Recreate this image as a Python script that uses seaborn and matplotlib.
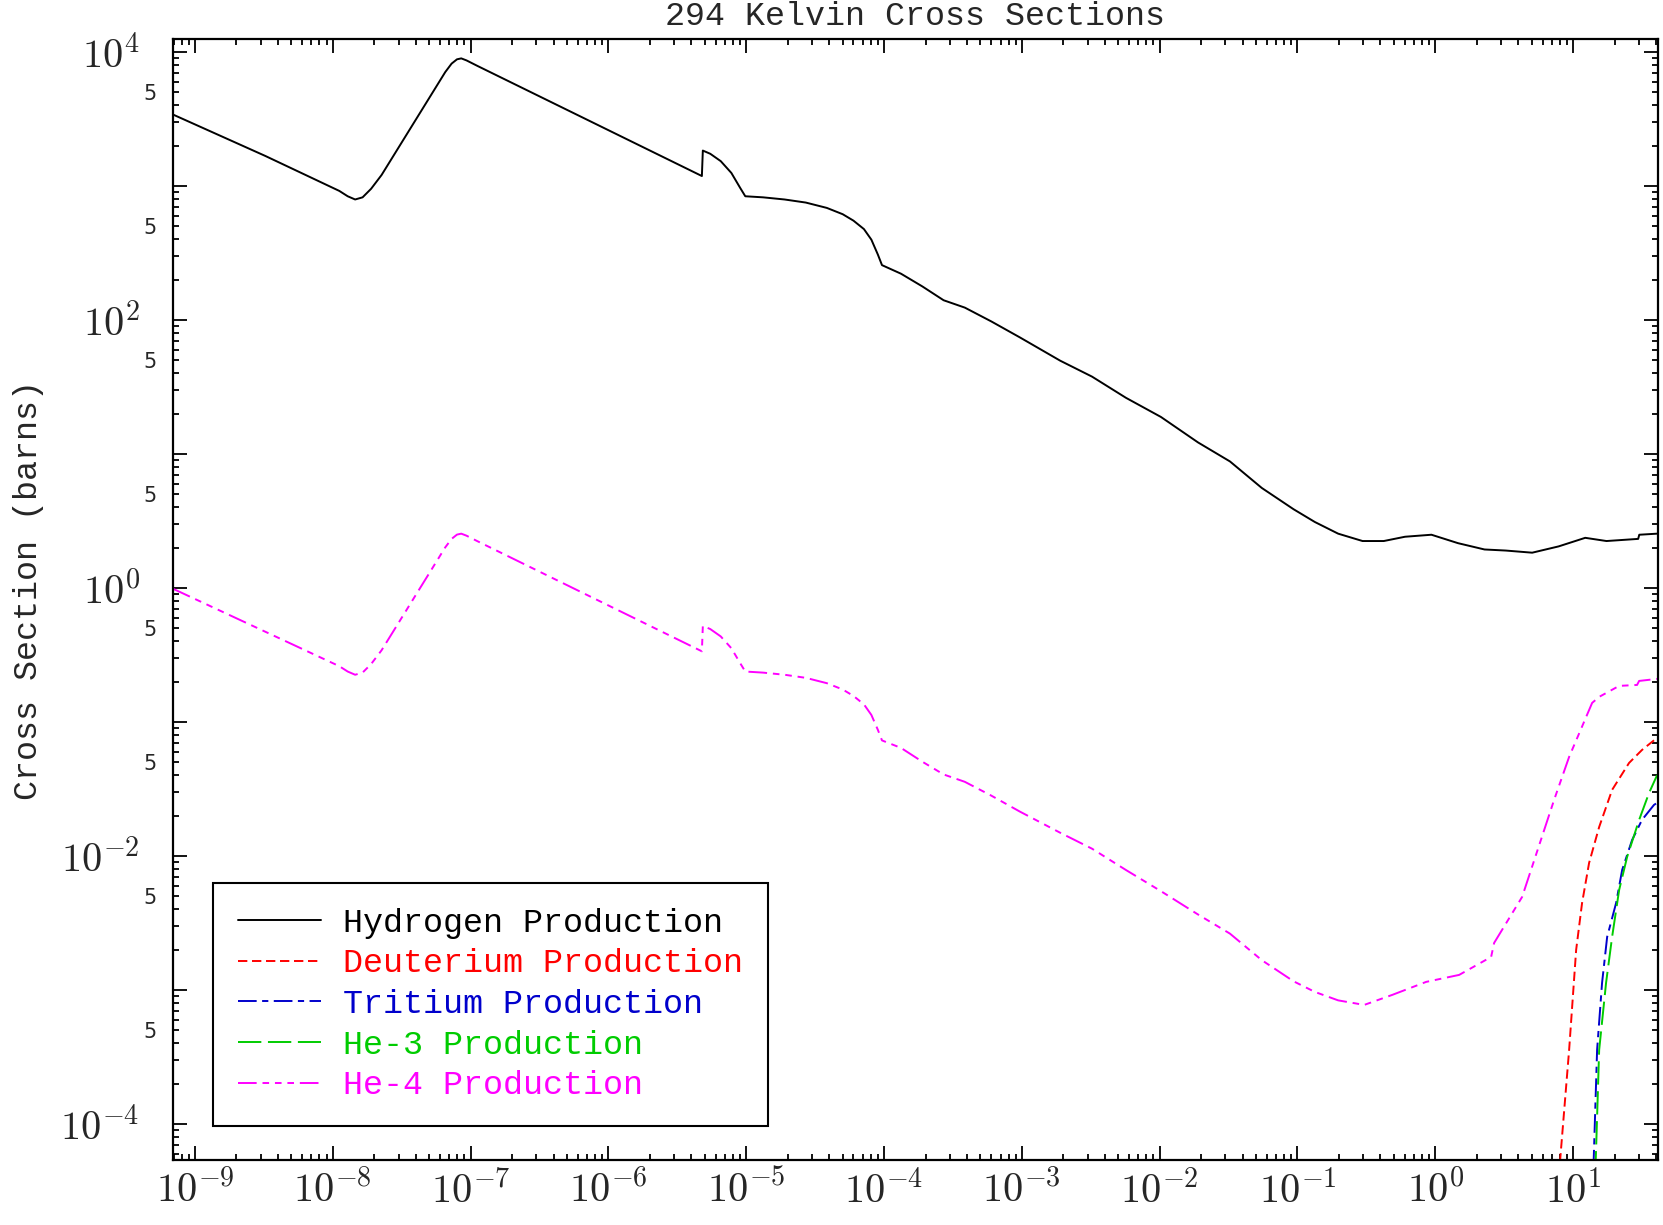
import numpy as np
import pandas as pd
import matplotlib
matplotlib.use("Agg")
import matplotlib.pyplot as plt
import matplotlib.ticker as mticker
import seaborn as sns

# values, stored as log10(energy) / log10(barns)
h_logE = [-9.16, -8.49, -7.953, -7.892, -7.838, -7.784, -7.722, -7.646,
          -7.184, -7.138, -7.099, -7.068, -7.03, -6.953,
          -5.322, -5.315, -5.261, -5.185, -5.108, -5.045, -5.007,
          -4.878, -4.722, -4.568, -4.415, -4.3, -4.222, -4.146, -4.092, -4.045, -4.015,
          -3.877, -3.722, -3.568, -3.414, -3.222, -3.015,
          -2.722, -2.491, -2.245, -1.991, -1.722, -1.49, -1.259, -1.028, -0.874,
          -0.705, -0.528, -0.374, -0.22, -0.028, 0.165, 0.357, 0.511, 0.703,
          0.895, 1.088, 1.242, 1.472, 1.48, 1.61]
h_logS = [3.533, 3.224, 2.963, 2.923, 2.899, 2.915, 2.979, 3.082,
          3.85, 3.913, 3.945, 3.952, 3.937, 3.897,
          3.074, 3.264, 3.24, 3.185, 3.097, 2.987, 2.923,
          2.915, 2.899, 2.876, 2.836, 2.789, 2.741, 2.678, 2.599, 2.488, 2.409,
          2.345, 2.25, 2.147, 2.092, 1.989, 1.87,
          1.696, 1.577, 1.419, 1.276, 1.086, 0.944, 0.746, 0.587, 0.492,
          0.405, 0.35, 0.35, 0.382, 0.397, 0.334, 0.287, 0.279, 0.263,
          0.31, 0.374, 0.35, 0.366, 0.397, 0.405]

he4_logE = [-9.16, -7.953, -7.892, -7.838, -7.784, -7.722, -7.646,
            -7.184, -7.138, -7.099, -7.068, -7.03, -6.953,
            -5.322, -5.315, -5.261, -5.185, -5.108, -5.045, -5.007,
            -4.878, -4.722, -4.568, -4.415, -4.3, -4.222, -4.146, -4.092, -4.045, -4.015,
            -3.877, -3.722, -3.568, -3.414, -3.222, -3.015,
            -2.722, -2.491, -2.245, -1.991, -1.722, -1.49, -1.259, -1.028, -0.874,
            -0.705, -0.516, -0.312, -0.066, 0.173, 0.405, 0.427, 0.63, 0.862,
            0.971, 1.138, 1.189, 1.334, 1.464, 1.479, 1.609]
he4_logS = [-0.006, -0.584, -0.624, -0.648, -0.632, -0.568, -0.465,
            0.303, 0.366, 0.398, 0.405, 0.39, 0.35,
            -0.473, -0.283, -0.307, -0.362, -0.45, -0.56, -0.624,
            -0.632, -0.648, -0.671, -0.711, -0.758, -0.806, -0.869, -0.948, -1.059, -1.138,
            -1.194, -1.297, -1.392, -1.447, -1.55, -1.669,
            -1.827, -1.946, -2.105, -2.263, -2.437, -2.58, -2.778, -2.936, -3.015,
            -3.078, -3.112, -3.037, -2.94, -2.888, -2.754, -2.649, -2.306, -1.582,
            -1.261, -0.858, -0.813, -0.731, -0.724, -0.694, -0.679]

d_logE = [0.88, 0.913, 0.971, 1.022, 1.065, 1.116, 1.189, 1.283, 1.406, 1.5, 1.609]
d_logS = [-4.6, -4.179, -3.448, -2.701, -2.351, -2.052, -1.784, -1.507, -1.306, -1.209, -1.119]

t_logE = [1.139, 1.152, 1.174, 1.21, 1.247, 1.312, 1.356, 1.428, 1.5, 1.587, 1.61]
t_logS = [-4.6, -4.179, -3.448, -2.948, -2.604, -2.351, -2.104, -1.881, -1.731, -1.619, -1.604]

he3_logE = [1.153, 1.167, 1.189, 1.239, 1.283, 1.334, 1.392, 1.479, 1.551, 1.61]
he3_logS = [-4.6, -4.179, -3.448, -2.948, -2.604, -2.254, -2.007, -1.731, -1.53, -1.396]

labels = ["Hydrogen Production", "Deuterium Production", "Tritium Production",
          "He-3 Production", "He-4 Production"]
colors = ["black", "red", "#0000CC", "#00CC00", "magenta"]
dashes = [(None, None), (4.8, 2.4), (9.6, 2.8, 3.2, 2.8), (12, 3.4),
          (9.6, 3.0, 3.4, 3.0, 3.4, 3.0, 3.4, 3.0)]

series = [(h_logE, h_logS), (d_logE, d_logS), (t_logE, t_logS),
          (he3_logE, he3_logS), (he4_logE, he4_logS)]

xlim = (10 ** -9.16, 10 ** 1.616)
ylim = (10 ** -4.269, 10 ** 4.097)

sns.set_style("ticks")
plt.rcParams["font.family"] = ["DejaVu Sans"]
plt.rcParams["mathtext.fontset"] = "cm"
mono = "Liberation Mono"

fig = plt.figure(figsize=(16.63, 12.25), dpi=100)
ax = fig.add_axes([0.104, 0.0531, 0.893, 0.9151])

for (lx, ly), lab, col, ds in zip(series, labels, colors, dashes):
    df = pd.DataFrame({"E": 10 ** np.array(lx), "xs": 10 ** np.array(ly)})
    line_kw = {} if ds[0] is None else {"dashes": ds}
    sns.lineplot(data=df, x="E", y="xs", ax=ax, color=col, lw=1.4,
                 sort=False, estimator=None, label=lab, **line_kw)

ax.set_xscale("log")
ax.set_yscale("log")
ax.set_xlim(*xlim)
ax.set_ylim(*ylim)


def xmajor(v, p):
    if not (xlim[0] <= v <= xlim[1]):
        return ""
    return r"$10^{%d}$" % round(np.log10(v))


def ymajor(v, p):
    e = int(round(np.log10(v)))
    if not (ylim[0] <= v <= ylim[1]):
        return ""
    return r"$10^{%d}$" % e if e % 2 == 0 else ""


def yminor(v, p):
    if not (ylim[0] <= v <= ylim[1]):
        return ""
    m = v / 10 ** np.floor(np.log10(v) + 1e-9)
    return "5" if abs(m - 5) < 0.01 else ""


ax.xaxis.set_major_locator(mticker.LogLocator(base=10, numticks=30))
ax.xaxis.set_minor_locator(mticker.LogLocator(base=10, subs=np.arange(2, 10), numticks=300))
ax.xaxis.set_major_formatter(mticker.FuncFormatter(xmajor))
ax.xaxis.set_minor_formatter(mticker.NullFormatter())

ax.yaxis.set_major_locator(mticker.LogLocator(base=10, numticks=30))
ax.yaxis.set_minor_locator(mticker.LogLocator(base=10, subs=np.arange(2, 10), numticks=300))
ax.yaxis.set_major_formatter(mticker.FuncFormatter(ymajor))
ax.yaxis.set_minor_formatter(mticker.FuncFormatter(yminor))

ax.tick_params(which="both", direction="in", top=True, right=True, width=1.3, color="black")
ax.tick_params(which="major", length=10)
ax.tick_params(which="minor", length=4)
ax.tick_params(axis="x", which="major", labelsize=29, pad=8)
ax.tick_params(axis="y", which="major", labelsize=29, pad=24)
ax.tick_params(axis="y", which="minor", labelsize=15, pad=12)
for s in ax.spines.values():
    s.set_linewidth(1.6)
    s.set_color("black")

ax.set_xlabel("")
ax.set_ylabel("Cross Section (barns)", fontsize=24, family=mono)
ax.yaxis.set_label_coords(-0.087, 0.508)
ax.set_title("294 Kelvin Cross Sections", fontsize=24, family=mono, pad=10)

leg = ax.legend(loc="lower left", bbox_to_anchor=(0.027, 0.030), borderaxespad=0,
                prop={"family": mono, "size": 24}, handlelength=2.5,
                handletextpad=0.65, labelspacing=0.29, borderpad=0.75,
                fancybox=False, framealpha=1, edgecolor="black")
leg.get_frame().set_linewidth(1.5)
for txt, col in zip(leg.get_texts(), colors):
    txt.set_color(col)

fig.savefig("out.png", dpi=100)
